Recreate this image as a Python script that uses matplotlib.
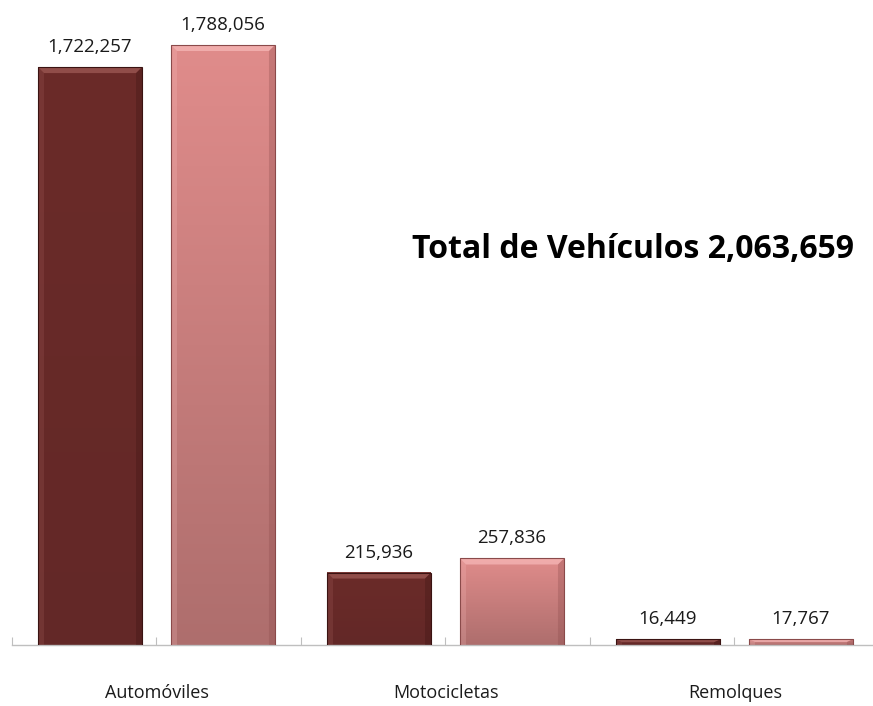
import matplotlib
matplotlib.use("Agg")
import matplotlib.pyplot as plt
import numpy as np
from matplotlib.patches import Rectangle, Polygon

categories = ["Automóviles", "Motocicletas", "Remolques"]
serie_a = [1722257, 215936, 16449]
serie_b = [1788056, 257836, 17767]
value_labels_a = ["1,722,257", "215,936", "16,449"]
value_labels_b = ["1,788,056", "257,836", "17,767"]
total_text = "Total de Vehículos 2,063,659"

W, H = 873, 706
fig = plt.figure(figsize=(W / 100, H / 100), dpi=100)
fig.patch.set_facecolor("white")

ax_left = 12 / W
ax_bottom = (H - 645) / H
ax = fig.add_axes([ax_left, ax_bottom, 1 - ax_left, 1 - ax_bottom])
ax.set_facecolor("none")

group_px = 289.0
xmin = -0.5
xmax = xmin + (W - 12) / group_px
ymax = 1788056 * 645 / 600
ax.set_xlim(xmin, xmax)
ax.set_ylim(0, ymax)

for s in ["top", "right", "left"]:
    ax.spines[s].set_visible(False)
ax.spines["bottom"].set_color("#BFBFBF")
ax.spines["bottom"].set_linewidth(1.0)
ax.set_yticks([])
ticks = np.arange(-0.5, xmax, 0.5)
ax.set_xticks(ticks)
ax.set_xticklabels([])
ax.tick_params(axis="x", length=6, color="#BFBFBF", direction="in")

px_x = 1.0 / group_px
px_y = ymax / 645.0

bar_w = 104 * px_x
offset = 0.23
bev = 6


def bevel_bar(xc, h, top_col, bot_col, dark, light):
    x0 = xc - bar_w / 2
    x1 = xc + bar_w / 2
    grad = np.linspace(0, 1, 256).reshape(-1, 1)
    c_top = np.array(matplotlib.colors.to_rgb(top_col))
    c_bot = np.array(matplotlib.colors.to_rgb(bot_col))
    img = c_bot[None, None, :] * (1 - grad[:, :, None]) + c_top[None, None, :] * grad[:, :, None]
    ax.imshow(img, extent=[x0, x1, 0, h], origin="lower", aspect="auto", zorder=2, interpolation="bilinear")
    bx = min(bev * px_x, bar_w / 4)
    by = min(bev * px_y, h / 2)
    ax.add_patch(Polygon([[x0, h], [x1, h], [x1 - bx, h - by], [x0 + bx, h - by]],
                         closed=True, facecolor=light, edgecolor="none", alpha=0.55, zorder=3))
    ax.add_patch(Polygon([[x0, 0], [x0, h], [x0 + bx, h - by], [x0 + bx, 0]],
                         closed=True, facecolor=light, edgecolor="none", alpha=0.2, zorder=3))
    ax.add_patch(Polygon([[x1, 0], [x1, h], [x1 - bx, h - by], [x1 - bx, 0]],
                         closed=True, facecolor=dark, edgecolor="none", alpha=0.3, zorder=3))
    ax.add_patch(Rectangle((x0, 0), bar_w, h, facecolor="none", edgecolor=dark, linewidth=0.8, zorder=4))


xs = np.arange(len(categories))
for i in range(len(categories)):
    xa = xs[i] - offset
    xb = xs[i] + offset
    bevel_bar(xa, serie_a[i], "#6B2B29", "#632827", "#3A1312", "#B06A66")
    bevel_bar(xb, serie_b[i], "#E08C8B", "#AE6E6D", "#8A4A4A", "#FFC8C8")
    ax.text(xa, serie_a[i] + 11 * px_y, value_labels_a[i], ha="center", va="bottom",
            fontsize=13.5, family="Open Sans", color="#1A1A1A", zorder=5)
    ax.text(xb, serie_b[i] + 11 * px_y, value_labels_b[i], ha="center", va="bottom",
            fontsize=13.5, family="Open Sans", color="#1A1A1A", zorder=5)
    fig.text((157 + group_px * i) / W, (H - 693) / H, categories[i], ha="center", va="center",
             fontsize=13, family="Open Sans", color="#1A1A1A")

fig.text(633 / W, (H - 250) / H, total_text, ha="center", va="center",
         fontsize=23, fontweight="bold", family="Open Sans", color="black")

fig.savefig("out.png", dpi=100, facecolor="white")
